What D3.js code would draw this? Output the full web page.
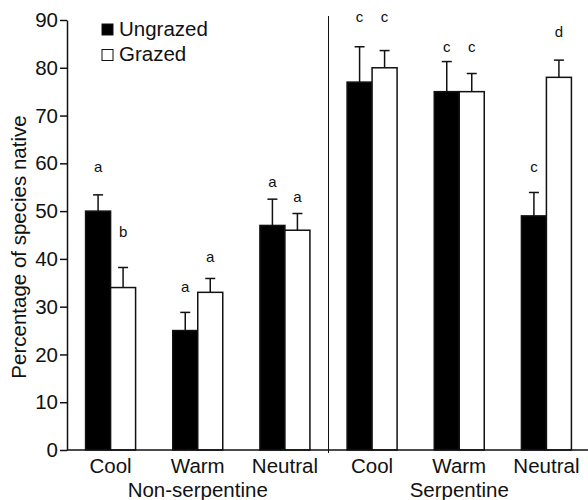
<!DOCTYPE html>
<html>
<head>
<meta charset="utf-8">
<script src="https://cdn.jsdelivr.net/npm/d3@7"></script>
<style>
body { margin: 0; background: #fff; }
text { font-family: "Liberation Sans", Arial, Helvetica, sans-serif; fill: #111; }
.axis path, .axis line { stroke: #111; stroke-width: 1.5; }
</style>
</head>
<body>
<script>
(function(){

//chart data
var groups = ["Non-serpentine", "Serpentine"];
var soils = ["Cool", "Warm", "Neutral"];
var series = ["Ungrazed", "Grazed"];
var ungrazed = [50, 25, 47, 77, 75, 49];
var ungrazedErr = [3.4, 3.8, 5.5, 7.4, 6.3, 4.9];
var grazed = [34, 33, 46, 80, 75, 78];
var grazedErr = [4.2, 2.9, 3.5, 3.6, 3.8, 3.6];
var ungrazedLetters = ["a", "a", "a", "c", "c", "c"];
var grazedLetters = ["b", "a", "a", "c", "c", "d"];
var ungrazedLetterAt = [59.3, 34.2, 56.2, 90.7, 84.4, 59.3];
var grazedLetterAt = [45.7, 40.5, 53.0, 90.7, 84.4, 87.6];
var yTicks = [0, 10, 20, 30, 40, 50, 60, 70, 80, 90];

//build rows: one per group x soil
var rows = [];
groups.forEach(function(g, gi){
	soils.forEach(function(s, si){
		var i = gi * soils.length + si;
		rows.push({id: g + "|" + s, group: g, soil: s, i: i});
	});
});

var width = 588, height = 500;
var left = 67, right = 590, top = 20, bottom = 450;
var fontSize = "20.5px";

var svg = d3.select("body").append("svg")
	.attr("width", width)
	.attr("height", height);

var x = d3.scalePoint()
	.domain(rows.map(function(d){ return d.id; }))
	.range([left, right])
	.padding(0.5);

var barW = 25;
var xSub = d3.scaleBand()
	.domain(series)
	.range([-barW, barW]);

var y = d3.scaleLinear()
	.domain([0, 90])
	.range([bottom, top]);

//bars + error bars for each series
var seriesData = [
	{name: "Ungrazed", vals: ungrazed, err: ungrazedErr, letters: ungrazedLetters, at: ungrazedLetterAt, fill: "#000"},
	{name: "Grazed", vals: grazed, err: grazedErr, letters: grazedLetters, at: grazedLetterAt, fill: "#fff"}
];

seriesData.forEach(function(s){
	var g = svg.append("g").attr("class", "series");
	var cx = function(d){ return x(d.id) + xSub(s.name) + xSub.bandwidth() / 2; };

	//error bars
	g.selectAll(".err")
		.data(rows)
		.enter()
		.append("line")
		.attr("x1", cx)
		.attr("x2", cx)
		.attr("y1", function(d){ return y(s.vals[d.i]); })
		.attr("y2", function(d){ return y(s.vals[d.i] + s.err[d.i]); })
		.attr("stroke", "#111")
		.attr("stroke-width", 1.5);

	g.selectAll(".cap")
		.data(rows)
		.enter()
		.append("line")
		.attr("x1", function(d){ return cx(d) - 5; })
		.attr("x2", function(d){ return cx(d) + 5; })
		.attr("y1", function(d){ return y(s.vals[d.i] + s.err[d.i]); })
		.attr("y2", function(d){ return y(s.vals[d.i] + s.err[d.i]); })
		.attr("stroke", "#111")
		.attr("stroke-width", 1.5);

	g.selectAll(".bar")
		.data(rows)
		.enter()
		.append("rect")
		.attr("class", "bar")
		.attr("x", function(d){ return x(d.id) + xSub(s.name); })
		.attr("width", xSub.bandwidth())
		.attr("y", function(d){ return y(s.vals[d.i]); })
		.attr("height", function(d){ return y(0) - y(s.vals[d.i]); })
		.attr("fill", s.fill)
		.attr("stroke", "#111")
		.attr("stroke-width", 1.5);

	//significance letters
	g.selectAll(".letter")
		.data(rows)
		.enter()
		.append("text")
		.attr("x", cx)
		.attr("y", function(d){ return y(s.at[d.i]); })
		.attr("dy", "0.35em")
		.attr("text-anchor", "middle")
		.style("font-size", "15px")
		.text(function(d){ return s.letters[d.i]; });
});

//y axis
var yAxis = d3.axisLeft(y)
	.tickValues(yTicks)
	.tickSize(7)
	.tickPadding(2)
	.tickSizeOuter(0);

svg.append("g")
	.attr("class", "axis")
	.attr("transform", "translate(" + left + ",0)")
	.call(yAxis)
	.selectAll("text")
	.style("font-size", fontSize);

//x baseline
svg.append("line")
	.attr("x1", left)
	.attr("x2", width)
	.attr("y1", y(0))
	.attr("y2", y(0))
	.attr("stroke", "#111")
	.attr("stroke-width", 1.5);

//separator between groups
var sepX = (x(rows[2].id) + x(rows[3].id)) / 2;
svg.append("line")
	.attr("x1", sepX)
	.attr("x2", sepX)
	.attr("y1", 16)
	.attr("y2", y(0) + 3)
	.attr("stroke", "#111")
	.attr("stroke-width", 1);

//category labels
svg.selectAll(".cat")
	.data(rows)
	.enter()
	.append("text")
	.attr("x", function(d){ return x(d.id); })
	.attr("y", 473)
	.attr("text-anchor", "middle")
	.style("font-size", fontSize)
	.text(function(d){ return d.soil; });

//group labels, centred on middle soil
svg.selectAll(".grp")
	.data(groups)
	.enter()
	.append("text")
	.attr("x", function(g, gi){ return x(rows[gi * soils.length + 1].id); })
	.attr("y", 497)
	.attr("text-anchor", "middle")
	.style("font-size", fontSize)
	.text(function(g){ return g; });

//y axis title
svg.append("text")
	.attr("transform", "translate(26," + ((top + bottom) / 2 + 12) + ") rotate(-90)")
	.attr("text-anchor", "middle")
	.style("font-size", fontSize)
	.text("Percentage of species native");

//legend
var legend = svg.selectAll(".legend")
	.data(seriesData)
	.enter()
	.append("g")
	.attr("transform", function(d, i){ return "translate(102," + (24 + i * 25.5) + ")"; });

legend.append("rect")
	.attr("width", 11)
	.attr("height", 11)
	.attr("fill", function(d){ return d.fill; })
	.attr("stroke", "#111")
	.attr("stroke-width", 1);

legend.append("text")
	.attr("x", 17)
	.attr("y", 11.5)
	.style("font-size", fontSize)
	.text(function(d){ return d.name; });

})();
</script>
</body>
</html>
